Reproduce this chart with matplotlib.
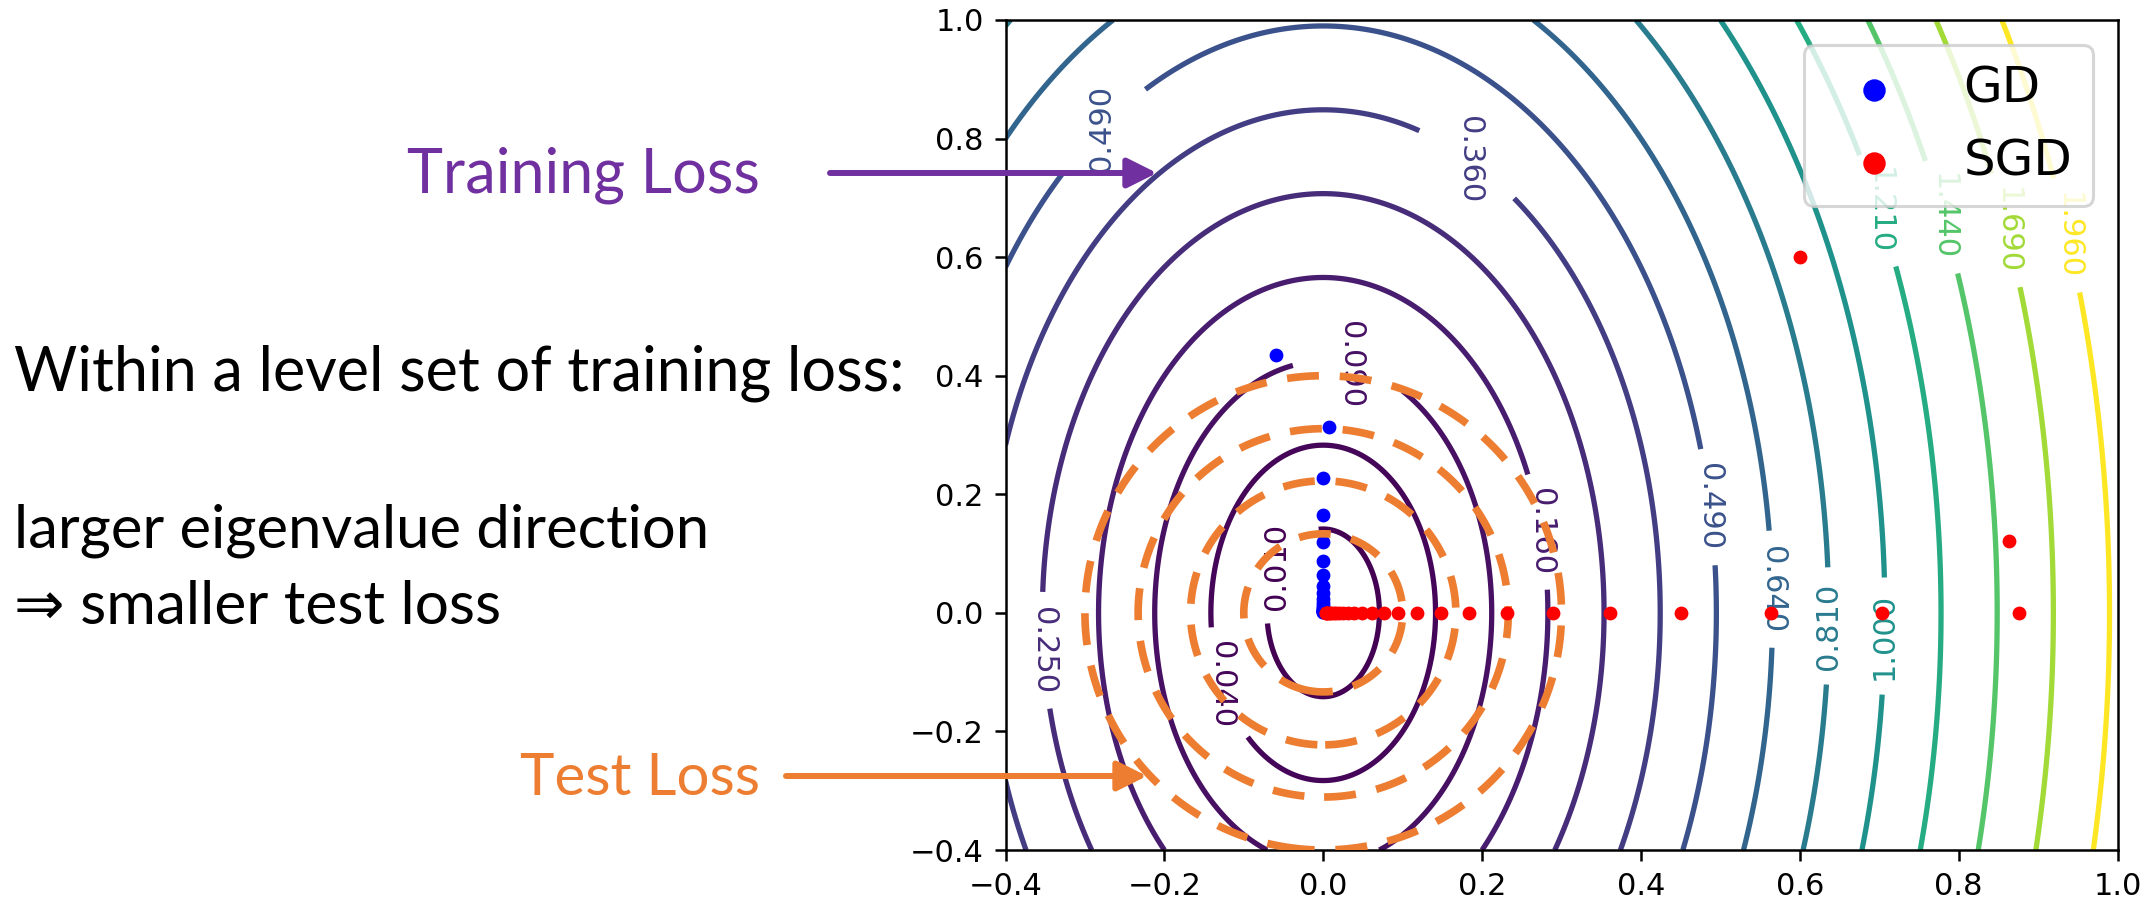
import numpy as np
import matplotlib
matplotlib.use('Agg')
import matplotlib.pyplot as plt
from matplotlib.patches import FancyArrowPatch, ArrowStyle

# training loss contour levels
train_levels = [0.01, 0.04, 0.09, 0.16, 0.25, 0.36, 0.49, 0.64, 0.81, 1.00,
                1.21, 1.44, 1.69, 1.96]
# training loss = a*x^2 + b*y^2 (read from the ellipses)
train_curv = [2.0, 0.5]

# test loss ellipses: half widths along x, height/width ratio
test_levels = [0.100, 0.167, 0.233, 0.300]
test_ratio = 4.0 / 3.0

# GD iterates
gd_x = [-0.060, 0.007, 0.000, 0.000, 0.000, 0.000, 0.000, 0.000, 0.000, 0.000,
        0.000, 0.000, 0.000, 0.000, 0.000, 0.000, 0.000, 0.000, 0.000, 0.000]
gd_y = [0.435, 0.314, 0.228, 0.165, 0.119, 0.087, 0.064, 0.046, 0.033, 0.024,
        0.017, 0.012, 0.009, 0.0065, 0.0047, 0.0034, 0.0024, 0.0017, 0.0012, 0.0009]

# SGD iterates
sgd_x = [0.600, 0.863, 0.876, 0.703, 0.564, 0.451, 0.361, 0.289, 0.231, 0.184,
         0.148, 0.118, 0.094, 0.077, 0.061, 0.049, 0.039, 0.031, 0.025, 0.020,
         0.016, 0.013, 0.010, 0.008, 0.006, 0.005, 0.004, 0.003]
sgd_y = [0.600, 0.122] + [0.0] * 26

# where the contour labels sit, and which way they read
label_pos = [(-0.061, 0.080), (-0.122, -0.119), (0.035, 0.420), (0.282, 0.139),
             (-0.347, -0.063), (0.187, 0.768), (-0.280, 0.819), (0.489, 0.179),
             (0.567, 0.040), (0.632, -0.022), (0.701, -0.039), (0.700, 0.679),
             (0.780, 0.668), (0.859, 0.645), (0.937, 0.637)]
label_rot = [90, 270, 270, 270, 270, 270, 90, 270, 270, 90, 90, 270, 270, 270, 270]

purple = '#7030A0'
orange = '#ED7D31'

plt.rcParams['axes.linewidth'] = 1.8
plt.rcParams['xtick.major.size'] = 7.8
plt.rcParams['ytick.major.size'] = 7.8
plt.rcParams['xtick.major.width'] = 1.8
plt.rcParams['ytick.major.width'] = 1.8
plt.rcParams['xtick.major.pad'] = 7.8
plt.rcParams['ytick.major.pad'] = 7.8
plt.rcParams['xtick.labelsize'] = 22
plt.rcParams['ytick.labelsize'] = 22
plt.rcParams['patch.linewidth'] = 2.2
plt.rcParams['lines.scale_dashes'] = False

W, H = 2156, 900
fig = plt.figure(figsize=(W / 100, H / 100), dpi=100)
ax = fig.add_axes([1005.5 / W, 50 / H, 1112 / W, 830 / H])

xs = np.linspace(-0.4, 1.0, 600)
ys = np.linspace(-0.4, 1.0, 600)
X, Y = np.meshgrid(xs, ys)
Z = train_curv[0] * X ** 2 + train_curv[1] * Y ** 2
G = np.sqrt(X ** 2 + (Y / test_ratio) ** 2)

cs = ax.contour(X, Y, Z, levels=train_levels, cmap='viridis', linewidths=3.8, zorder=1)
labels = ax.clabel(cs, manual=label_pos, inline=True, inline_spacing=15,
                   fmt='%1.3f', fontsize=22)
for t, r in zip(labels, label_rot):
    t.set_rotation(r)

ax.scatter(gd_x, gd_y, s=60, color='blue', label='GD', zorder=2)
ax.contour(X, Y, G, levels=test_levels, colors=orange, linewidths=5.5,
           linestyles=[(0, (23, 15))] * len(test_levels), zorder=3)
ax.scatter(sgd_x, sgd_y, s=60, color='red', label='SGD', zorder=4)

ax.set_xlim(-0.4, 1.0)
ax.set_ylim(-0.4, 1.0)
ax.set_xticks([-0.4, -0.2, 0.0, 0.2, 0.4, 0.6, 0.8, 1.0])
ax.set_yticks([-0.4, -0.2, 0.0, 0.2, 0.4, 0.6, 0.8, 1.0])
ax.legend(loc='upper right', fontsize=36, markerscale=1.8)

# slide text on the left
font = 'Lato'
fig.text(760 / W, 1 - 192 / H, 'Training Loss', color=purple, fontsize=44,
         family=font, ha='right', va='baseline')
fig.text(14 / W, 1 - 390 / H, 'Within a level set of training loss:', fontsize=44,
         family=font, ha='left', va='baseline')
fig.text(14 / W, 1 - 547 / H, 'larger eigenvalue direction', fontsize=43,
         family=font, ha='left', va='baseline')
fig.text(14 / W, 1 - 624 / H, '\u21d2 smaller test loss', fontsize=43.5,
         family=[font, 'DejaVu Sans'], ha='left', va='baseline')
fig.text(760 / W, 1 - 795 / H, 'Test Loss', color=orange, fontsize=42,
         family=font, ha='right', va='baseline')

style = ArrowStyle('-|>', head_length=18, head_width=9)
for x0, x1, y, c in [(830, 1157, 173, purple), (786, 1147, 776, orange)]:
    arr = FancyArrowPatch((x0 / W, 1 - y / H), (x1 / W, 1 - y / H),
                          transform=fig.transFigure, arrowstyle=style,
                          mutation_scale=1, color=c, lw=4.3,
                          shrinkA=0, shrinkB=0, zorder=5)
    fig.add_artist(arr)

fig.savefig('out.png', dpi=100)
